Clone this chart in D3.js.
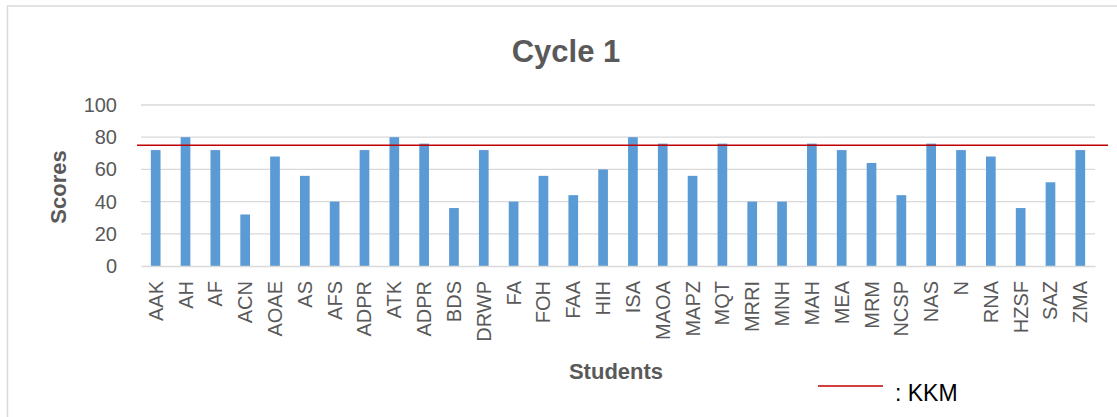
<!DOCTYPE html>
<html>
<head>
<meta charset="utf-8">
<script src="https://cdn.jsdelivr.net/npm/d3@7"></script>
<style>
  body { margin: 0; background: #fff; }
  text { font-family: "Liberation Sans", Arial, sans-serif; }
</style>
</head>
<body>
<div id="chart"></div>
<script>
// students on the x axis (in order as they appear)
let students = ["AAK","AH","AF","ACN","AOAE","AS","AFS","ADPR","ATK","ADPR2","BDS","DRWP","FA","FOH","FAA","HIH",
                "ISA","MAOA","MAPZ","MQT","MRRI","MNH","MAH","MEA","MRM","NCSP","NAS","N","RNA","HZSF","SAZ","ZMA"];
let scores = [72,80,72,32,68,56,40,72,80,76,36,72,40,56,44,60,
              80,76,56,76,40,40,76,72,64,44,76,72,68,36,52,72];
let yTicks = [0,20,40,60,80,100];
let kkm = 75;

let larg = 1117;
let alt = 417;

let canvas = d3.select("#chart")
                .append("svg")
                .attr("width", larg)
                .attr("height", alt);

// chart frame (only top and left edges visible)
canvas.append("rect")
        .attr("x", 7.5).attr("y", 6)
        .attr("width", 1200).attr("height", 500)
        .attr("fill", "none")
        .attr("stroke", "#d9d9d9")
        .attr("stroke-width", 1.5);

let pLeft = 141, pRight = 1095, pTop = 105, pBottom = 266;

let x = d3.scaleBand()
            .domain(d3.range(students.length))
            .range([pLeft, pRight])
            .paddingInner(0.675)
            .paddingOuter(0.33);

let y = d3.scaleLinear()
            .domain([0, 100])
            .range([pBottom, pTop]);

// gridlines
canvas.append("g")
        .selectAll("line")
        .data(yTicks.filter(d => d > 0))
        .enter()
            .append("line")
            .attr("x1", pLeft).attr("x2", pRight)
            .attr("y1", d => y(d)).attr("y2", d => y(d))
            .attr("stroke", "#d9d9d9")
            .attr("stroke-width", 1.3);

// bars
canvas.append("g")
        .selectAll("rect")
        .data(scores)
        .enter()
            .append("rect")
            .attr("x", (d, i) => x(i))
            .attr("width", x.bandwidth())
            .attr("y", d => y(d))
            .attr("height", d => y(0) - y(d))
            .attr("fill", "#5b9bd5");

// y axis labels
let yAxis = d3.axisLeft(y).tickValues(yTicks).tickSize(0).tickPadding(24);
let gy = canvas.append("g")
        .attr("transform", `translate(${pLeft},0)`)
        .call(yAxis);
gy.select(".domain").remove();
gy.selectAll("text")
    .style("font-size", "20px")
    .attr("fill", "#595959");

// x axis
let xAxis = d3.axisBottom(x).tickSize(0).tickFormat(i => students[i].replace(/\d+$/, ""));
let gx = canvas.append("g")
        .attr("transform", `translate(0,${pBottom})`)
        .call(xAxis);
gx.select(".domain")
    .attr("stroke", "#d9d9d9")
    .attr("stroke-width", 1.3);
gx.selectAll("text")
    .style("font-size", "20px")
    .attr("fill", "#595959")
    .attr("text-anchor", "end")
    .attr("transform", "translate(0,15) rotate(-90)")
    .attr("x", 0).attr("y", 0)
    .attr("dy", "0.35em");

// KKM line
canvas.append("line")
        .attr("x1", pLeft - 4).attr("x2", 1108)
        .attr("y1", y(kkm)).attr("y2", y(kkm))
        .attr("stroke", "#c00000")
        .attr("stroke-width", 1.5);

// titles
canvas.append("text")
        .attr("x", 566).attr("y", 62)
        .attr("text-anchor", "middle")
        .style("font-size", "31px")
        .style("font-weight", "bold")
        .attr("fill", "#595959")
        .text("Cycle 1");

canvas.append("text")
        .attr("transform", "translate(66,187) rotate(-90)")
        .attr("text-anchor", "middle")
        .style("font-size", "22px")
        .style("font-weight", "bold")
        .attr("fill", "#595959")
        .text("Scores");

canvas.append("text")
        .attr("x", 616).attr("y", 379)
        .attr("text-anchor", "middle")
        .style("font-size", "22px")
        .style("font-weight", "bold")
        .attr("fill", "#595959")
        .text("Students");

// legend
canvas.append("line")
        .attr("x1", 818).attr("x2", 883)
        .attr("y1", 386).attr("y2", 386)
        .attr("stroke", "#c00000")
        .attr("stroke-width", 1.5);
canvas.append("text")
        .attr("x", 895).attr("y", 401)
        .style("font-size", "23px")
        .attr("fill", "#000")
        .text(": KKM");
</script>
</body>
</html>
